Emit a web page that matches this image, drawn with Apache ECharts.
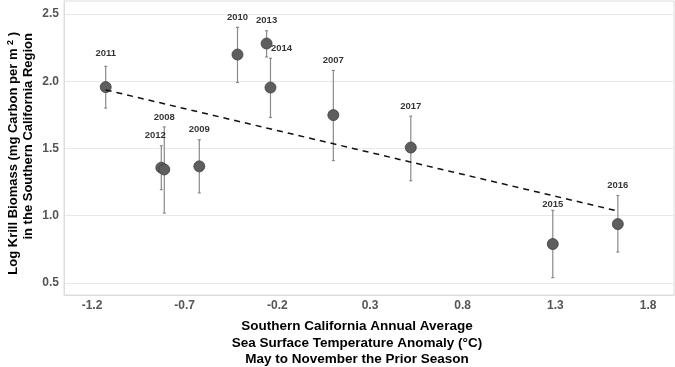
<!DOCTYPE html>
<html>
<head>
<meta charset="utf-8">
<script src="https://cdn.jsdelivr.net/npm/echarts@6/dist/echarts.min.js"></script>
<style>html,body{margin:0;padding:0;background:#fff;}#c{width:675px;height:367px;}</style>
</head>
<body>
<div id="c"></div>
<script>
const years = ['2011','2012','2008','2009','2010','2013','2014','2007','2017','2015','2016'];
const sst = [-1.126, -0.826, -0.81, -0.621, -0.415, -0.258, -0.237, 0.102, 0.52, 1.286, 1.637];
const biomass = [1.956, 1.357, 1.344, 1.367, 2.198, 2.28, 1.953, 1.748, 1.507, 0.79, 0.938];
const errLow = [1.80, 1.194, 1.02, 1.17, 1.99, 2.18, 1.73, 1.41, 1.26, 0.54, 0.73];
const errHigh = [2.11, 1.52, 1.66, 1.565, 2.40, 2.375, 2.17, 2.08, 1.74, 1.04, 1.15];
const trendX = [-1.126, 1.637];
const trendY = [1.935, 1.035];
const xTicks = [-1.2, -0.7, -0.2, 0.3, 0.8, 1.3, 1.8];
const yTicks = [0.5, 1.0, 1.5, 2.0, 2.5];

const labelShift = {'2012': [-6, 0], '2014': [11, 0], '2015': [0, 4], '2011': [0, -3]};
const FONT = '"Liberation Sans", Arial, Helvetica, sans-serif';

const chart = echarts.init(document.getElementById('c'), null, {renderer: 'canvas'});
const option = {
  animation: false,
  backgroundColor: '#fff',
  grid: {left: 64, right: 1, top: 1, bottom: 72, show: true, borderColor: '#dddddd', borderWidth: 1},
  xAxis: {
    type: 'value', min: -1.351, max: 1.94,
    axisLine: {show: true, onZero: false, lineStyle: {color: '#dddddd'}},
    axisTick: {show: false, customValues: xTicks},
    splitLine: {show: false},
    axisLabel: {customValues: xTicks, color: '#555', fontFamily: FONT, fontWeight: 'bold', fontSize: 12, margin: 5,
      formatter: v => v.toFixed(1)}
  },
  yAxis: {
    type: 'value', min: 0.411, max: 2.596,
    axisLine: {show: true, onZero: false, lineStyle: {color: '#dddddd'}},
    axisTick: {show: false, customValues: yTicks},
    splitLine: {show: true, lineStyle: {color: '#e8e8e8', width: 1}},
    axisLabel: {customValues: yTicks, color: '#555', fontFamily: FONT, fontWeight: 'bold', fontSize: 12, margin: 5,
      formatter: v => v.toFixed(1)}
  },
  graphic: [
    {type: 'text', x: 357, y: 326, style: {text: 'Southern California Annual Average', font: 'bold 13.5px ' + FONT, fill: '#000', align: 'center', verticalAlign: 'middle'}},
    {type: 'text', x: 357, y: 343, style: {text: 'Sea Surface Temperature Anomaly (°C)', font: 'bold 13.5px ' + FONT, fill: '#000', align: 'center', verticalAlign: 'middle'}},
    {type: 'text', x: 357, y: 359, style: {text: 'May to November the Prior Season', font: 'bold 13.5px ' + FONT, fill: '#000', align: 'center', verticalAlign: 'middle'}},
    {type: 'text', x: 13, y: 32, rotation: Math.PI / 2, style: {
      text: 'Log Krill Biomass (mg Carbon per m {s|2} )',
      rich: {s: {fontSize: 9, fontWeight: 'bold', fontFamily: FONT, fill: '#000', verticalAlign: 'top', padding: [0,0,5,0]}},
      font: 'bold 13px ' + FONT, fill: '#000', align: 'right', verticalAlign: 'middle'}},
    {type: 'text', x: 28, y: 33, rotation: Math.PI / 2, style: {
      text: 'in the Southern California Region',
      font: 'bold 13px ' + FONT, fill: '#000', align: 'right', verticalAlign: 'middle'}}
  ],
  series: [
    {
      type: 'custom', z: 2,
      data: sst.map((x, i) => [x, errLow[i], errHigh[i]]),
      renderItem: function (params, api) {
        const lo = api.coord([api.value(0), api.value(1)]);
        const hi = api.coord([api.value(0), api.value(2)]);
        const cap = 1.5;
        const st = {stroke: '#8a8a8a', lineWidth: 1.2};
        return {type: 'group', children: [
          {type: 'line', shape: {x1: lo[0], y1: lo[1], x2: hi[0], y2: hi[1]}, style: st},
          {type: 'line', shape: {x1: lo[0] - cap, y1: lo[1], x2: lo[0] + cap, y2: lo[1]}, style: st},
          {type: 'line', shape: {x1: hi[0] - cap, y1: hi[1], x2: hi[0] + cap, y2: hi[1]}, style: st}
        ]};
      }
    },
    {
      type: 'scatter', z: 3,
      data: sst.map((x, i) => [x, biomass[i]]),
      symbol: 'circle', symbolSize: 11,
      itemStyle: {color: '#5e5e5e', borderColor: '#3f3f3f', borderWidth: 0.8, opacity: 1}
    },
    {
      type: 'line', z: 4,
      data: trendX.map((x, i) => [x, trendY[i]]),
      symbol: 'none',
      lineStyle: {color: '#111', width: 1.5, type: [6, 5]}
    },
    {
      type: 'scatter', z: 5,
      data: sst.map((x, i) => ({value: [x, errHigh[i]], name: years[i]})),
      symbol: 'circle', symbolSize: 2,
      itemStyle: {color: 'rgba(0,0,0,0)'},
      labelLayout: function (params) {
        const s = labelShift[years[params.dataIndex]] || [0, 0];
        return {hideOverlap: false, dx: s[0], dy: s[1]};
      },
      label: {show: true, position: 'top', distance: 4, formatter: function (p) { return p.name; },
        color: '#000', fontFamily: FONT, fontWeight: 'bold', fontSize: 9.5}
    }
  ]
};
chart.setOption(option);
</script>
</body>
</html>
